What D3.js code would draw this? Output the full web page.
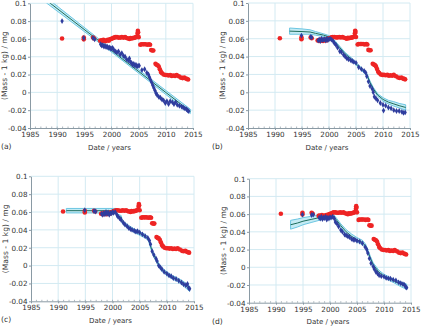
<!DOCTYPE html>
<html>
<head>
<meta charset="utf-8">
<script src="https://cdn.jsdelivr.net/npm/d3@7"></script>
<style>
    body { margin: 0; background: #fff; }
    text { font-family: "DejaVu Sans", Verdana, sans-serif; fill: #333; }
</style>
</head>
<body>
<svg id="chart" width="422" height="326"></svg>
<script>

// Section for Data

var xTicks = [1985, 1990, 1995, 2000, 2005, 2010, 2015];
var yTicks = [0.1, 0.08, 0.06, 0.04, 0.02, 0, -0.02, -0.04];
var yTickLabels = ["0.1", "0.08", "0.06", "0.04", "0.02", "0", "-0.02", "-0.04"];
var panelNames = ["(a)", "(b)", "(c)", "(d)"];

// Uncorrected measurements (same in every panel)
var redPoints = [
    [1990.9, 0.0605], [1994.9, 0.0595], [1994.9, 0.0615], [1996.6, 0.0615], [1996.8, 0.0605],
    [1997.9, 0.058], [1998.1, 0.0585], [1998.3, 0.0575], [1998.5, 0.059], [1998.7, 0.058],
    [1998.9, 0.0575], [1999.1, 0.0585], [1999.3, 0.059], [1999.5, 0.058], [1999.7, 0.0595],
    [1999.9, 0.060], [2000.1, 0.0605], [2000.3, 0.061], [2000.5, 0.0615], [2000.7, 0.062],
    [2001.0, 0.062], [2001.3, 0.0615], [2001.6, 0.0615], [2001.9, 0.062], [2002.2, 0.0615],
    [2002.5, 0.062], [2002.8, 0.061], [2003.1, 0.0605], [2003.3, 0.060], [2003.5, 0.061],
    [2003.7, 0.0605], [2003.9, 0.061], [2004.1, 0.061], [2004.3, 0.0615], [2004.5, 0.062],
    [2004.7, 0.0625], [2004.8, 0.066], [2004.85, 0.069], [2004.9, 0.0675], [2005.0, 0.062],
    [2005.3, 0.0535], [2005.5, 0.054], [2005.8, 0.054], [2006.0, 0.054], [2006.3, 0.054],
    [2006.6, 0.0535], [2006.9, 0.054], [2007.1, 0.0535], [2007.3, 0.0475], [2007.5, 0.047],
    [2007.7, 0.047], [2008.1, 0.032], [2008.3, 0.031], [2008.5, 0.0305], [2008.7, 0.029],
    [2008.9, 0.026], [2009.1, 0.023], [2009.3, 0.0215], [2009.6, 0.020], [2009.9, 0.0195],
    [2010.2, 0.0195], [2010.5, 0.019], [2010.8, 0.0195], [2011.1, 0.0185], [2011.4, 0.019],
    [2011.7, 0.0185], [2012.0, 0.0195], [2012.4, 0.018], [2012.8, 0.0165], [2013.1, 0.016],
    [2013.4, 0.0165], [2013.7, 0.0155], [2013.9, 0.015], [2014.1, 0.0145]
];

// Corrected measurements, one set per panel
var blueA = [
    [1990.9, 0.080], [1994.9, 0.061], [1996.6, 0.061], [1996.9, 0.0595],
    [1998.0, 0.054], [1998.2, 0.0525], [1998.4, 0.053], [1998.6, 0.0515], [1998.8, 0.052],
    [1999.0, 0.051], [1999.2, 0.0515], [1999.4, 0.050], [1999.6, 0.0505], [1999.8, 0.0495],
    [2000.0, 0.049], [2000.2, 0.050], [2000.4, 0.048], [2000.7, 0.046], [2001.0, 0.045],
    [2001.3, 0.046], [2001.6, 0.0425], [2001.9, 0.044], [2002.2, 0.041], [2002.5, 0.040],
    [2002.8, 0.037], [2003.1, 0.036], [2003.3, 0.038], [2003.5, 0.034], [2003.7, 0.033],
    [2003.9, 0.031], [2004.1, 0.032], [2004.3, 0.030], [2004.5, 0.031], [2004.7, 0.029],
    [2004.9, 0.030], [2005.1, 0.030], [2005.6, 0.025], [2006.1, 0.026], [2006.5, 0.022],
    [2006.8, 0.020], [2007.0, 0.017], [2007.2, 0.014], [2007.4, 0.011], [2007.6, 0.008],
    [2007.8, 0.005], [2008.0, 0.002], [2008.2, -0.001], [2008.4, -0.003], [2008.7, -0.005],
    [2009.0, -0.006], [2009.3, -0.008], [2009.6, -0.009], [2009.9, -0.012], [2010.2, -0.010],
    [2010.5, -0.013], [2010.8, -0.010], [2011.2, -0.011], [2011.5, -0.013], [2011.8, -0.011],
    [2012.1, -0.014], [2012.5, -0.015], [2012.9, -0.016], [2013.2, -0.017], [2013.5, -0.018],
    [2013.8, -0.019], [2014.0, -0.020], [2014.2, -0.021]
];
var blueB = [
    [1994.9, 0.0635], [1996.6, 0.062], [1996.8, 0.0615],
    [1998.0, 0.058], [1998.2, 0.059], [1998.4, 0.0575], [1998.6, 0.060], [1998.8, 0.0585],
    [1999.0, 0.059], [1999.2, 0.0595], [1999.4, 0.058], [1999.6, 0.060], [1999.8, 0.0585],
    [2000.0, 0.0595], [2000.2, 0.060], [2000.5, 0.059], [2000.8, 0.057], [2001.0, 0.055],
    [2001.3, 0.053], [2001.6, 0.050], [2002.0, 0.046], [2002.3, 0.045], [2002.7, 0.042],
    [2003.0, 0.040], [2003.3, 0.038], [2003.6, 0.037], [2004.0, 0.036], [2004.3, 0.035],
    [2004.6, 0.034], [2005.0, 0.033], [2005.5, 0.028], [2006.0, 0.026], [2006.5, 0.024],
    [2006.8, 0.022], [2007.0, 0.018], [2007.3, 0.012], [2007.6, 0.007], [2008.0, 0.004],
    [2008.2, 0.000], [2008.4, -0.005], [2008.7, -0.007], [2009.0, -0.009], [2009.5, -0.012],
    [2010.0, -0.014], [2010.1, -0.0205], [2010.5, -0.015], [2011.0, -0.017], [2011.5, -0.018],
    [2012.0, -0.020], [2012.5, -0.021], [2013.0, -0.021], [2013.5, -0.022], [2013.8, -0.023],
    [2014.1, -0.0225]
];
var blueC = [
    [1994.9, 0.062], [1996.6, 0.061], [1996.9, 0.0605],
    [1998.0, 0.058], [1998.2, 0.057], [1998.4, 0.059], [1998.6, 0.0575], [1998.8, 0.060],
    [1999.0, 0.058], [1999.2, 0.0595], [1999.4, 0.057], [1999.6, 0.059], [1999.8, 0.0585],
    [2000.0, 0.060], [2000.2, 0.059], [2000.5, 0.060], [2000.8, 0.057], [2001.0, 0.055],
    [2001.3, 0.053], [2001.6, 0.051], [2002.0, 0.048], [2002.3, 0.046], [2002.7, 0.044],
    [2003.0, 0.042], [2003.3, 0.041], [2003.6, 0.040], [2004.0, 0.039], [2004.3, 0.038],
    [2004.6, 0.0385], [2005.0, 0.037], [2005.5, 0.035], [2006.0, 0.033], [2006.5, 0.031],
    [2006.8, 0.028], [2007.0, 0.024], [2007.3, 0.016], [2007.6, 0.012], [2008.0, 0.008],
    [2008.2, 0.005], [2008.5, 0.000], [2008.8, -0.002], [2009.1, -0.004], [2009.5, -0.007],
    [2010.0, -0.009], [2010.4, -0.011], [2010.8, -0.012], [2011.2, -0.014], [2011.7, -0.015],
    [2012.2, -0.017], [2012.7, -0.019], [2013.1, -0.021], [2013.5, -0.022], [2013.8, -0.0205],
    [2014.0, -0.025], [2014.2, -0.026]
];
var blueD = [
    [1994.9, 0.0595], [1996.6, 0.059], [1996.9, 0.0595],
    [1998.0, 0.056], [1998.2, 0.055], [1998.4, 0.057], [1998.6, 0.0545], [1998.8, 0.056],
    [1999.0, 0.0555], [1999.2, 0.057], [1999.4, 0.054], [1999.6, 0.056], [1999.8, 0.055],
    [2000.0, 0.0565], [2000.2, 0.056], [2000.5, 0.057], [2000.8, 0.055], [2001.0, 0.051],
    [2001.3, 0.049], [2001.6, 0.046], [2002.0, 0.042], [2002.3, 0.040], [2002.7, 0.037],
    [2003.0, 0.036], [2003.3, 0.035], [2003.6, 0.034], [2004.0, 0.032], [2004.3, 0.031],
    [2004.6, 0.031], [2005.0, 0.030], [2005.5, 0.029], [2006.0, 0.027], [2006.5, 0.023],
    [2006.8, 0.020], [2007.0, 0.016], [2007.3, 0.010], [2007.6, 0.0045], [2008.0, 0.001],
    [2008.2, -0.002], [2008.5, -0.005], [2008.8, -0.007], [2009.1, -0.009], [2009.5, -0.010],
    [2010.0, -0.0105], [2010.4, -0.012], [2010.8, -0.0125], [2011.2, -0.013], [2011.7, -0.014],
    [2012.2, -0.015], [2012.7, -0.017], [2013.1, -0.018], [2013.5, -0.019], [2013.8, -0.020],
    [2014.0, -0.022], [2014.2, -0.023]
];

// Fitted curves: years, centre value and half width of the band
var fitYearsA = [1988.0, 2001.0, 2014.5];
var fitMidA = [0.1035, 0.0423, -0.0213];
var fitHalfA = [0.003, 0.0017, 0.0025];

var fitYearsB = [1992.7, 1995, 1996.5, 1997.5, 1999, 2000, 2001, 2002, 2003, 2004, 2005, 2006, 2007, 2007.6, 2008.2, 2009, 2010, 2011, 2012, 2013, 2014.2];
var fitMidB = [0.0685, 0.068, 0.0675, 0.066, 0.064, 0.062, 0.057, 0.050, 0.043, 0.038, 0.032, 0.026, 0.020, 0.011, 0.004, -0.003, -0.008, -0.011, -0.013, -0.015, -0.017];
var fitHalfB = [0.0035, 0.003, 0.0025, 0.002, 0.0015, 0.0015, 0.0015, 0.0015, 0.0015, 0.0015, 0.0015, 0.0015, 0.0015, 0.0015, 0.0015, 0.0015, 0.002, 0.002, 0.0025, 0.0025, 0.003];

var fitYearsC = [1991.5, 2000.7, 2000.8, 2001.6, 2001.8, 2002.3, 2003, 2004, 2005, 2006, 2006.6, 2006.9, 2007.2, 2007.5, 2008, 2008.5, 2009, 2010, 2011, 2012, 2013, 2014.2];
var fitMidC = [0.0615, 0.0615, 0.056, 0.054, 0.049, 0.046, 0.043, 0.039, 0.036, 0.033, 0.030, 0.024, 0.018, 0.013, 0.007, 0.001, -0.004, -0.009, -0.013, -0.016, -0.020, -0.026];
var fitHalfC = [0.0025, 0.0025, 0.002, 0.002, 0.002, 0.002, 0.002, 0.002, 0.002, 0.002, 0.002, 0.002, 0.002, 0.002, 0.002, 0.002, 0.002, 0.002, 0.002, 0.002, 0.0025, 0.003];

var fitYearsD = [1992.7, 1994, 1995, 1996.5, 1998, 1999, 2000, 2000.6, 2001, 2002, 2003, 2004, 2005, 2006, 2006.6, 2007, 2007.5, 2008, 2009, 2010, 2011, 2012, 2013, 2014.2];
var fitMidD = [0.048, 0.050, 0.052, 0.054, 0.056, 0.057, 0.058, 0.058, 0.055, 0.047, 0.040, 0.035, 0.031, 0.028, 0.024, 0.018, 0.010, 0.003, -0.005, -0.010, -0.013, -0.016, -0.019, -0.022];
var fitHalfD = [0.005, 0.0045, 0.004, 0.0035, 0.003, 0.0025, 0.002, 0.002, 0.002, 0.002, 0.0025, 0.0025, 0.0025, 0.0025, 0.002, 0.002, 0.002, 0.002, 0.002, 0.002, 0.002, 0.002, 0.0025, 0.003];

// Section for layout of the four panels (pixel boxes of each plot area)
var panels = [
    { left: 30, right: 193, top: 3.3, bottom: 128, blue: blueA, fy: fitYearsA, fm: fitMidA, fh: fitHalfA, labelX: 1, labelY: 149 },
    { left: 248, right: 410, top: 3, bottom: 128, blue: blueB, fy: fitYearsB, fm: fitMidB, fh: fitHalfB, labelX: 212, labelY: 149 },
    { left: 31, right: 194, top: 176.3, bottom: 301.3, blue: blueC, fy: fitYearsC, fm: fitMidC, fh: fitHalfC, labelX: 1, labelY: 322 },
    { left: 249, right: 411, top: 178.7, bottom: 302.7, blue: blueD, fy: fitYearsD, fm: fitMidD, fh: fitHalfD, labelX: 212, labelY: 324 }
];

var svg = d3.select("#chart");

panels.forEach(function (p, i) {

    var x = d3.scaleLinear().domain([1985, 2015]).range([p.left, p.right]);
    var y = d3.scaleLinear().domain([-0.04, 0.1]).range([p.bottom, p.top]);

    var g = svg.append("g");

    // clip for the fitted curves
    g.append("clipPath").attr("id", "clip" + i)
        .append("rect")
        .attr("x", p.left).attr("y", p.top)
        .attr("width", p.right - p.left).attr("height", p.bottom - p.top);

    // grid lines
    g.append("g").selectAll("line")
        .data(xTicks.slice(1))
        .enter().append("line")
        .attr("x1", function (d) { return x(d); })
        .attr("x2", function (d) { return x(d); })
        .attr("y1", p.top).attr("y2", p.bottom)
        .attr("stroke", "#d3eaf2").attr("stroke-width", 1);

    g.append("g").selectAll("line")
        .data(yTicks.slice(0, -1))
        .enter().append("line")
        .attr("x1", p.left).attr("x2", p.right)
        .attr("y1", function (d) { return y(d); })
        .attr("y2", function (d) { return y(d); })
        .attr("stroke", "#d3eaf2").attr("stroke-width", 1);

    // minor ticks on the x axis (every year)
    g.append("g").selectAll("line")
        .data(d3.range(1986, 2015))
        .enter().append("line")
        .attr("x1", function (d) { return x(d); })
        .attr("x2", function (d) { return x(d); })
        .attr("y1", p.bottom).attr("y2", p.bottom - 1.5)
        .attr("stroke", "#8a9aa4").attr("stroke-width", 0.7);

    // axes
    var xAxis = g.append("g")
        .attr("transform", "translate(0," + p.bottom + ")")
        .call(d3.axisBottom(x).tickValues(xTicks).tickFormat(d3.format("d")).tickSizeInner(2).tickSizeOuter(0).tickPadding(2));

    var yAxis = g.append("g")
        .attr("transform", "translate(" + p.left + ",0)")
        .call(d3.axisLeft(y).tickValues(yTicks)
            .tickFormat(function (d, k) { return yTickLabels[k]; })
            .tickSizeInner(2).tickSizeOuter(0).tickPadding(1.5));

    [xAxis, yAxis].forEach(function (a) {
        a.select(".domain").attr("stroke", "#8a9aa4");
        a.selectAll(".tick line").attr("stroke", "#8a9aa4");
        a.selectAll("text").attr("font-size", "7.2px").attr("fill", "#333")
            .attr("font-family", "DejaVu Sans, Verdana, sans-serif");
    });

    // fitted curve with uncertainty band
    var fit = p.fy.map(function (yr, k) { return { t: yr, m: p.fm[k], h: p.fh[k] }; });
    var fitG = g.append("g").attr("clip-path", "url(#clip" + i + ")");

    fitG.append("path")
        .datum(fit)
        .attr("d", d3.area()
            .x(function (d) { return x(d.t); })
            .y0(function (d) { return y(d.m - d.h); })
            .y1(function (d) { return y(d.m + d.h); }))
        .attr("fill", "#c4ebf4")
        .attr("stroke", "#6cc6e2")
        .attr("stroke-width", 1);

    fitG.append("path")
        .datum(fit)
        .attr("d", d3.line()
            .x(function (d) { return x(d.t); })
            .y(function (d) { return y(d.m); }))
        .attr("fill", "none")
        .attr("stroke", "#1c6d5c")
        .attr("stroke-width", 1);

    // uncorrected points
    g.append("g").selectAll("circle")
        .data(redPoints)
        .enter().append("circle")
        .attr("cx", function (d) { return x(d[0]); })
        .attr("cy", function (d) { return y(d[1]); })
        .attr("r", 2.3)
        .attr("fill", "#ee2424");

    // corrected points
    g.append("g").selectAll("path")
        .data(p.blue)
        .enter().append("path")
        .attr("d", d3.symbol(d3.symbolDiamond, 10))
        .attr("transform", function (d) { return "translate(" + x(d[0]) + "," + y(d[1]) + ")"; })
        .attr("fill", "#2f3d9e");

    // axis titles
    g.append("text")
        .attr("x", (p.left + p.right) / 2 - 2)
        .attr("y", p.bottom + 21.5)
        .attr("text-anchor", "middle")
        .attr("font-size", "7px")
        .text("Date / years");

    g.append("text")
        .attr("transform", "translate(" + (p.left - 23) + "," + ((p.top + p.bottom) / 2) + ") rotate(-90)")
        .attr("text-anchor", "middle")
        .attr("font-size", "7.6px")
        .text("(Mass - 1 kg) / mg");

    g.append("text")
        .attr("x", p.labelX)
        .attr("y", p.labelY)
        .attr("font-size", "7.6px")
        .text(panelNames[i]);
});

</script>
</body>
</html>
